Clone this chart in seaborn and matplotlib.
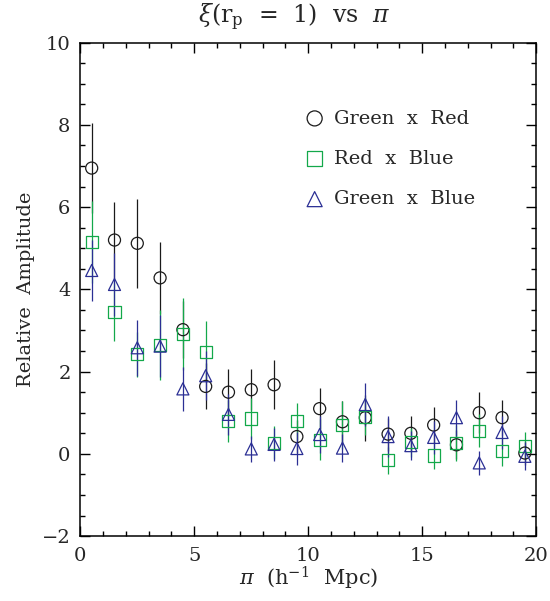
import numpy as np
import pandas as pd
import seaborn as sns
from matplotlib import pyplot as plt
from matplotlib.ticker import MultipleLocator

sns.set_theme(style="ticks")
plt.rcParams["font.family"] = ["DejaVu Serif"]
plt.rcParams["mathtext.fontset"] = "dejavuserif"

# separation bins (h^-1 Mpc)
pi_bins = [0.5, 1.5, 2.5, 3.5, 4.5, 5.5, 6.5, 7.5, 8.5, 9.5,
           10.5, 11.5, 12.5, 13.5, 14.5, 15.5, 16.5, 17.5, 18.5, 19.5]

# Green x Red
gr_val = [6.95, 5.20, 5.12, 4.28, 3.02, 1.64, 1.50, 1.56, 1.68, 0.42,
          1.10, 0.78, 0.88, 0.48, 0.50, 0.70, 0.22, 1.00, 0.88, 0.02]
gr_err = [1.10, 0.92, 1.09, 0.88, 0.70, 0.56, 0.57, 0.50, 0.60, 0.40,
          0.49, 0.50, 0.56, 0.40, 0.42, 0.44, 0.35, 0.50, 0.44, 0.30]

# Red x Blue
rb_val = [5.16, 3.46, 2.42, 2.65, 2.92, 2.48, 0.79, 0.86, 0.27, 0.79,
          0.34, 0.71, 0.90, -0.16, 0.28, -0.04, 0.26, 0.56, 0.06, 0.18]
rb_err = [1.00, 0.72, 0.55, 0.85, 0.88, 0.74, 0.51, 0.50, 0.40, 0.45,
          0.50, 0.58, 0.45, 0.32, 0.35, 0.34, 0.44, 0.40, 0.36, 0.34]

# Green x Blue
gb_val = [4.46, 4.12, 2.58, 2.62, 1.58, 1.90, 0.96, 0.12, 0.23, 0.13,
          0.47, 0.14, 1.20, 0.42, 0.20, 0.40, 0.88, -0.22, 0.52, -0.06]
gb_err = [0.75, 0.76, 0.68, 0.75, 0.54, 0.60, 0.50, 0.32, 0.40, 0.41,
          0.45, 0.34, 0.52, 0.50, 0.36, 0.40, 0.44, 0.30, 0.40, 0.34]

series = [
    ("Green  x  Red", gr_val, gr_err, "o", "#1a1a1a"),
    ("Red  x  Blue", rb_val, rb_err, "s", "#13a84a"),
    ("Green  x  Blue", gb_val, gb_err, "^", "#2b2f94"),
]

fig = plt.figure(figsize=(5.5, 6.01), dpi=100)
ax = fig.add_axes([0.146, 0.108, 0.829, 0.821])

for name, val, err, marker, color in series:
    df = pd.DataFrame({"pi": pi_bins, "amp": val, "err": err})
    ax.errorbar(df["pi"], df["amp"], yerr=df["err"], fmt="none",
                ecolor=color, elinewidth=0.9, capsize=0, zorder=2)
    sns.scatterplot(data=df, x="pi", y="amp", marker=marker, s=75,
                    color=color, facecolor="none", edgecolor=color,
                    linewidth=0.9, label=name, ax=ax, zorder=3)

ax.set_xlim(0, 20)
ax.set_ylim(-2, 10)
ax.xaxis.set_major_locator(MultipleLocator(5))
ax.xaxis.set_minor_locator(MultipleLocator(1))
ax.yaxis.set_major_locator(MultipleLocator(2))
ax.yaxis.set_minor_locator(MultipleLocator(0.5))
ax.tick_params(which="both", direction="in", top=True, right=True,
               labelsize=14, width=1.0, color="black")
ax.tick_params(which="major", length=7)
ax.tick_params(which="minor", length=3.5)
ax.tick_params(axis="x", pad=8)
ax.tick_params(axis="y", pad=7)
for sp in ax.spines.values():
    sp.set_linewidth(1.1)
    sp.set_color("black")

ax.set_title(r"$\xi$(r$_{\rm p}$  =  1)  vs  $\pi$", fontsize=17, pad=14,
             x=0.47)
ax.set_xlabel(r"$\pi$  (h$^{-1}$  Mpc)", fontsize=15, labelpad=0)
ax.set_ylabel("Relative  Amplitude", fontsize=14, labelpad=5)

ax.legend(loc="upper left", bbox_to_anchor=(0.45, 0.9), frameon=False,
          fontsize=14, markerscale=1.25, handletextpad=0.4,
          labelspacing=1.15, handlelength=1.2)

fig.savefig("out.png", dpi=100)
